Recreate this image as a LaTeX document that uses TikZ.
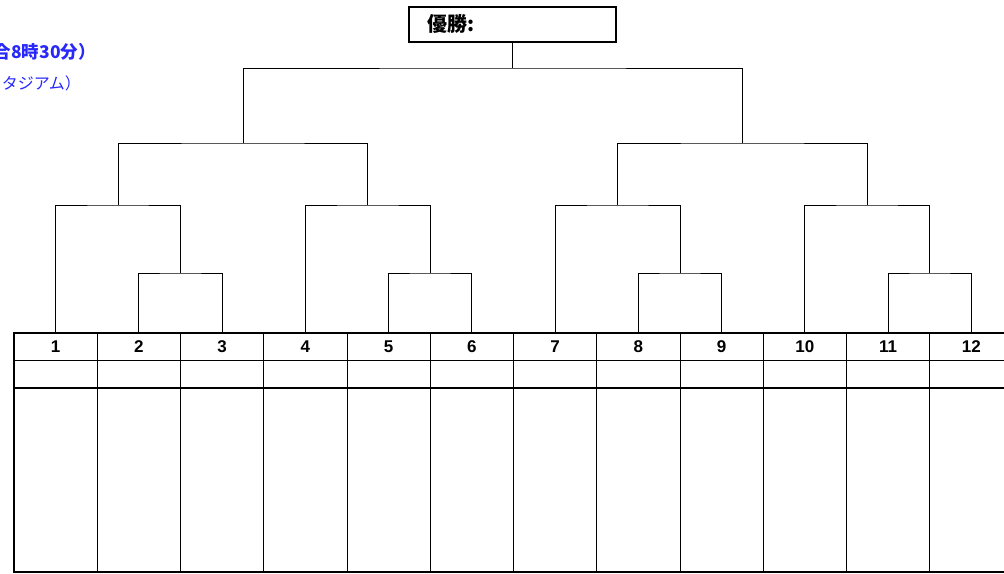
\documentclass[tikz,border=0pt]{standalone}
\usepackage{fontspec}
\setmainfont{Noto Sans CJK JP}
\newfontfamily\numfont{Liberation Sans}
\usepackage{tikz}
\usetikzlibrary{positioning,calc}
\definecolor{NoteBlue}{RGB}{40,40,250}
\tikzset{
  thin line/.style={draw=black,line width=0.8pt},
  thick line/.style={draw=black,line width=2pt},
  bracket/.style={draw=black,line width=0.8pt},
  num/.style={font=\numfont\bfseries\fontsize{17}{19}\selectfont,inner sep=0pt},
  champ/.style={draw=black,line width=1.6pt,minimum width=207pt,minimum height=35pt,inner sep=0pt},
  note/.style={text=NoteBlue,inner sep=0pt,anchor=east},
}
\begin{document}
\begin{tikzpicture}[x=1pt,y=-1pt]
\useasboundingbox (0,0) rectangle (1004,573);
% notes (cut at the left edge)
\node[note,font=\bfseries\fontsize{17.5}{19}\selectfont] (time) at (96,52) {合8時30分）};
\node[note,font=\fontsize{16}{18}\selectfont] (place) at (81,83) {タジアム）};
% winner box
\node[champ] (champ) at (512.5,24.5) {};
\node[font=\bfseries\fontsize{20}{22}\selectfont,inner sep=0pt,anchor=west] (champtext) at (427,24) {優勝:};
% table
\draw[thick line] (14,333) -- (1004,333);
\draw[thin line] (14,360) -- (1004,360);
\draw[thick line] (14,388) -- (1004,388);
\draw[thick line] (14,572) -- (1004,572);
\draw[thick line] (14,332) -- (14,573);
\foreach \i in {1,...,11}
  \draw[thin line] ({14+83.25*\i},333) -- ({14+83.25*\i},572);
\foreach \i in {1,...,12}{
  \node[num] (n\i) at ({14+83.25*(\i-0.5)},347) {\i};
  \coordinate (p\i) at ({14+83.25*(\i-0.5)},333);
}
% junctions
\coordinate (j23) at ($(p2)!0.5!(p3)+(0,-60)$);
\coordinate (j56) at ($(p5)!0.5!(p6)+(0,-60)$);
\coordinate (j89) at ($(p8)!0.5!(p9)+(0,-60)$);
\coordinate (j1112) at ($(p11)!0.5!(p12)+(0,-60)$);
\coordinate (k1) at ($(p1|-0,205)!0.5!(j23|-0,205)$);
\coordinate (k2) at ($(p4|-0,205)!0.5!(j56|-0,205)$);
\coordinate (k3) at ($(p7|-0,205)!0.5!(j89|-0,205)$);
\coordinate (k4) at ($(p10|-0,205)!0.5!(j1112|-0,205)$);
\coordinate (m1) at ($(k1|-0,143)!0.5!(k2|-0,143)$);
\coordinate (m2) at ($(k3|-0,143)!0.5!(k4|-0,143)$);
\coordinate (top) at (champ.south|-0,68);
% bracket
\draw[bracket] (p2) |- (j23) -| (p3);
\draw[bracket] (p5) |- (j56) -| (p6);
\draw[bracket] (p8) |- (j89) -| (p9);
\draw[bracket] (p11) |- (j1112) -| (p12);
\draw[bracket] (p1) |- (k1) -| (j23);
\draw[bracket] (p4) |- (k2) -| (j56);
\draw[bracket] (p7) |- (k3) -| (j89);
\draw[bracket] (p10) |- (k4) -| (j1112);
\draw[bracket] (k1) |- (m1) -| (k2);
\draw[bracket] (k3) |- (m2) -| (k4);
\draw[bracket] (m1) |- (top) -| (m2);
\draw[bracket] (top) -- (champ.south);
\end{tikzpicture}
\end{document}
